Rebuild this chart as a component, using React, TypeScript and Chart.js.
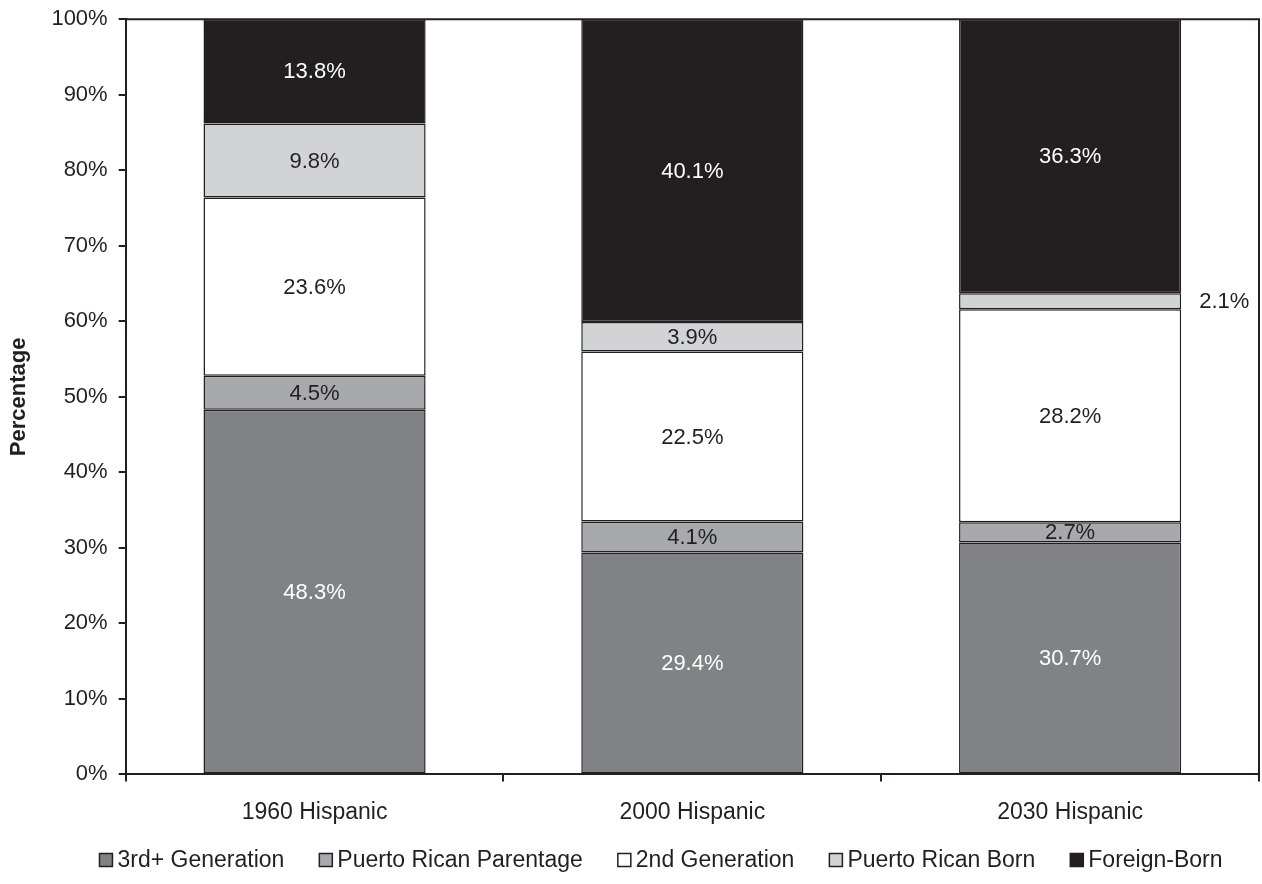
import React, { useEffect, useRef } from "react";
import { Chart, registerables } from "chart.js";

Chart.register(...registerables);

const categories = ["1960 Hispanic", "2000 Hispanic", "2030 Hispanic"];
const seriesNames = ["3rd+ Generation", "Puerto Rican Parentage", "2nd Generation", "Puerto Rican Born", "Foreign-Born"];
const thirdGen = [48.3, 29.4, 30.7];
const prParentage = [4.5, 4.1, 2.7];
const secondGen = [23.6, 22.5, 28.2];
const prBorn = [9.8, 3.9, 2.1];
const foreignBorn = [13.8, 40.1, 36.3];
const yTicks = [0, 10, 20, 30, 40, 50, 60, 70, 80, 90, 100];

const fills = ["#808285", "#A7A9AC", "#FFFFFF", "#D1D3D4", "#231F20"];
const labelColors = ["#FFFFFF", "#231F20", "#231F20", "#231F20", "#FFFFFF"];
const INK = "#231F20";
const FONT = "'Liberation Sans', Arial, sans-serif";
const FS = 22;

const labelPlugin = {
  id: "segLabels",
  afterDatasetsDraw(chart: any) {
    const ctx = chart.ctx;
    ctx.save();
    ctx.font = `${FS}px ${FONT}`;
    ctx.textBaseline = "middle";
    chart.data.datasets.forEach((ds: any, di: number) => {
      const meta = chart.getDatasetMeta(di);
      meta.data.forEach((bar: any, i: number) => {
        const v = ds.data[i];
        const text = v.toFixed(1) + "%";
        const midY = (bar.y + bar.base) / 2;
        const h = Math.abs(bar.base - bar.y);
        if (h < 17) {
          ctx.fillStyle = INK;
          ctx.textAlign = "left";
          ctx.fillText(text, bar.x + bar.width / 2 + 18, midY + 1);
        } else {
          ctx.fillStyle = labelColors[di];
          ctx.textAlign = "center";
          ctx.fillText(text, bar.x, midY + 1);
        }
      });
    });
    ctx.restore();
  },
};

const framePlugin = {
  id: "frame",
  afterDraw(chart: any) {
    const { ctx, chartArea } = chart;
    ctx.save();
    ctx.strokeStyle = INK;
    ctx.lineWidth = 2;
    ctx.beginPath();
    ctx.moveTo(chartArea.left, chartArea.top);
    ctx.lineTo(chartArea.right, chartArea.top);
    ctx.lineTo(chartArea.right, chartArea.bottom);
    ctx.stroke();
    ctx.restore();
  },
};

const legendPlugin = {
  id: "customLegend",
  afterDraw(chart: any) {
    const ctx = chart.ctx;
    ctx.save();
    ctx.font = `23px ${FONT}`;
    ctx.textBaseline = "middle";
    ctx.textAlign = "left";
    const box = 13;
    const gapBox = 5;
    const gapItem = 35;
    const widths = seriesNames.map((n) => ctx.measureText(n).width);
    const total = widths.reduce((a, w) => a + box + gapBox + w, 0) + gapItem * (seriesNames.length - 1);
    let x = chart.width / 2 + 30 - total / 2;
    const y = 860;
    seriesNames.forEach((name, i) => {
      ctx.fillStyle = fills[i];
      ctx.fillRect(x, y - box / 2, box, box);
      ctx.strokeStyle = INK;
      ctx.lineWidth = 1.5;
      ctx.strokeRect(x, y - box / 2, box, box);
      ctx.fillStyle = INK;
      ctx.fillText(name, x + box + gapBox, y + 1);
      x += box + gapBox + widths[i] + gapItem;
    });
    ctx.restore();
  },
};

export default function App() {
  const ref = useRef<HTMLCanvasElement>(null);
  useEffect(() => {
    document.body.style.margin = "0";
    const values = [thirdGen, prParentage, secondGen, prBorn, foreignBorn];
    const chart = new Chart(ref.current!, {
      type: "bar",
      data: {
        labels: categories,
        datasets: seriesNames.map((name, i) => ({
          label: name,
          data: values[i],
          backgroundColor: fills[i],
          borderColor: INK,
          borderWidth: 1.5,
          borderSkipped: false,
          barPercentage: 0.588,
          categoryPercentage: 1,
        })),
      },
      options: {
        animation: false,
        responsive: false,
        maintainAspectRatio: false,
        layout: { padding: { top: 0, right: 3, left: 6, bottom: 41 } },
        plugins: {
          tooltip: { enabled: false },
          legend: { display: false },
        },
        scales: {
          x: {
            stacked: true,
            grid: { display: true, drawOnChartArea: false, drawTicks: true, tickLength: 7, color: INK, lineWidth: 2, offset: true },
            border: { display: true, color: INK, width: 2 },
            ticks: { font: { family: FONT, size: 23 }, color: INK, padding: 17 },
          },
          y: {
            stacked: true,
            min: 0,
            max: 100,
            afterBuildTicks: (axis: any) => {
              axis.ticks = yTicks.map((v) => ({ value: v }));
            },
            grid: { display: true, drawOnChartArea: false, drawTicks: true, tickLength: 7, color: INK, lineWidth: 2 },
            border: { display: true, color: INK, width: 2 },
            ticks: { font: { family: FONT, size: FS, lineHeight: 0.75 }, color: INK, padding: 11, callback: (v: any) => v + "%" },
            title: { display: true, text: "Percentage", font: { family: FONT, size: 22, weight: "bold" }, color: INK, padding: { top: 0, bottom: 8 } },
          },
        },
      },
      plugins: [labelPlugin, framePlugin, legendPlugin],
    });
    return () => chart.destroy();
  }, []);
  return (
    <div style={{ width: 1262, height: 884, background: "#fff" }}>
      <canvas ref={ref} width={1262} height={884} />
    </div>
  );
}
